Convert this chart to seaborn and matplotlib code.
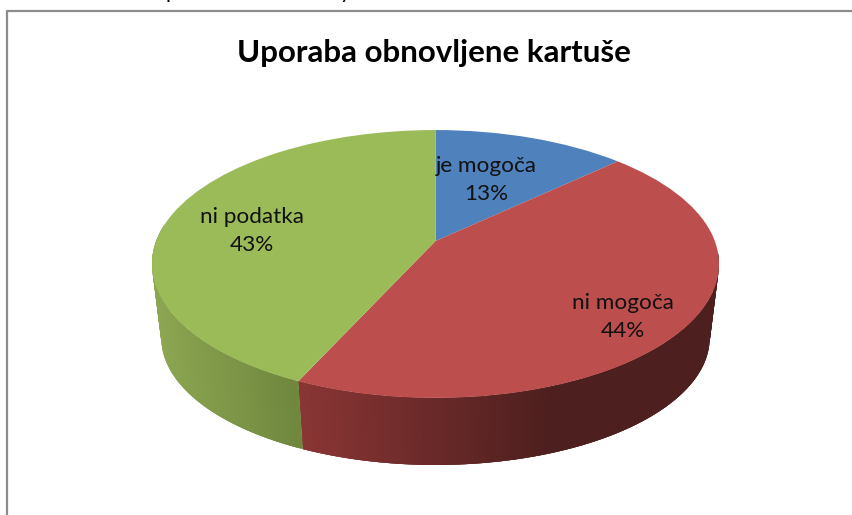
import numpy as np
import matplotlib
matplotlib.use('Agg')
import matplotlib.pyplot as plt
from matplotlib.transforms import Transform
import seaborn as sns

# data
categories = ['je mogoča', 'ni mogoča', 'ni podatka']
shares = [13.0, 43.8, 43.2]
colors = ['#4F81BD', '#BC4F4D', '#9BBB59']
title = 'Uporaba obnovljene kartuše'
label_pos = [(486, 180), (623, 317), (252, 231)]

# tilt of the disc, in pixels
CX, CY = 435.5, 241
WIDE, TALL, K = 279.3, 130, 0.1716
DEPTH, SHRINK_X, SHRINK_Y = 74, 0.967, 0.948
MID_Y = 264


def project(u, v):
    d = 1 + K * v
    return CX + WIDE * u / d, CY - TALL * v / d


class Tilt(Transform):
    input_dims = output_dims = 2

    def transform_non_affine(self, xy):
        xy = np.asarray(xy, dtype=float)
        x, y = project(xy[:, 0], xy[:, 1])
        return np.column_stack([x, y])


sns.set_theme(style='white')
plt.rcParams['font.family'] = ['Lato', 'DejaVu Sans']

fig, ax = plt.subplots(figsize=(8.53, 5.15), dpi=100)
fig.subplots_adjust(0, 0, 1, 1)

wedges, _ = ax.pie(shares, colors=colors, startangle=90, counterclock=False)
ax.set_aspect('auto')
ax.set_xlim(0, 853)
ax.set_ylim(515, 0)
ax.axis('off')

tilt = Tilt()
for w in wedges:
    w.set_transform(tilt + ax.transData)
    w.set_zorder(3)
    w.set_linewidth(0)

# side wall, strips from the right end round the front to the left end
edges = np.cumsum([0] + shares) / 100 * 360
for i, name in enumerate(categories):
    if i == 0:
        continue
    a0, a1 = edges[i], edges[i + 1]
    # clockwise angle from the top
    t = np.arange(max(a0, 95), min(a1, 277), 0.5)
    t = np.append(t, min(a1, 277))
    r = np.radians(90 - t)
    xt, yt = project(np.cos(r), np.sin(r))
    xb = CX + (xt - CX) * SHRINK_X
    yb = MID_Y + (yt - MID_Y) * SHRINK_Y + DEPTH
    # each strip runs over the next one so no seams show
    for j in range(len(t) - 2, -1, -1):
        k = j + 1
        m = min(j + 3, len(t) - 1)
        if i == 1:
            f = np.clip((xt[j] - 300) / 260, 0, 1)
            c = np.array([0x8B, 0x36, 0x35]) * (1 - f) + np.array([0x4D, 0x1F, 0x1E]) * f
        else:
            f = np.clip((xt[j] - 155) / 145, 0, 1)
            c = np.array([0x8C, 0xA6, 0x52]) * (1 - f) + np.array([0x70, 0x88, 0x3E]) * f
        ax.fill([xt[j], xt[k], xt[m], xb[m], xb[k], xb[j]],
                [yt[j], yt[k], yt[m], yb[m], yb[k], yb[j]],
                color=c / 255, lw=0, zorder=2 + i * 0.1)

# labels
for name, share, (x, y) in zip(categories, shares, label_pos):
    ax.text(x, y, f'{name}\n{round(share)}%', ha='center', va='center', fontsize=16.2,
            color='#111111', zorder=5, linespacing=1.5)
ax.text(434, 53, title, ha='center', va='center', fontsize=22.5, fontweight='bold',
        color='black', zorder=5)

# line of text above the chart, cut off by the crop
ax.text(172, -2, 'p', ha='center', va='baseline', fontsize=15.5, color='black')
ax.text(345, -2, 'y', ha='center', va='baseline', fontsize=15.5, color='black')

# chart frame, only top and left show in the crop
ax.plot([7, 7], [515, 11], color='#8C8C8C', lw=1.6, zorder=1)
ax.plot([7, 853], [11, 11], color='#8C8C8C', lw=1.6, zorder=1)

fig.savefig('out.png', dpi=100, facecolor='white')
